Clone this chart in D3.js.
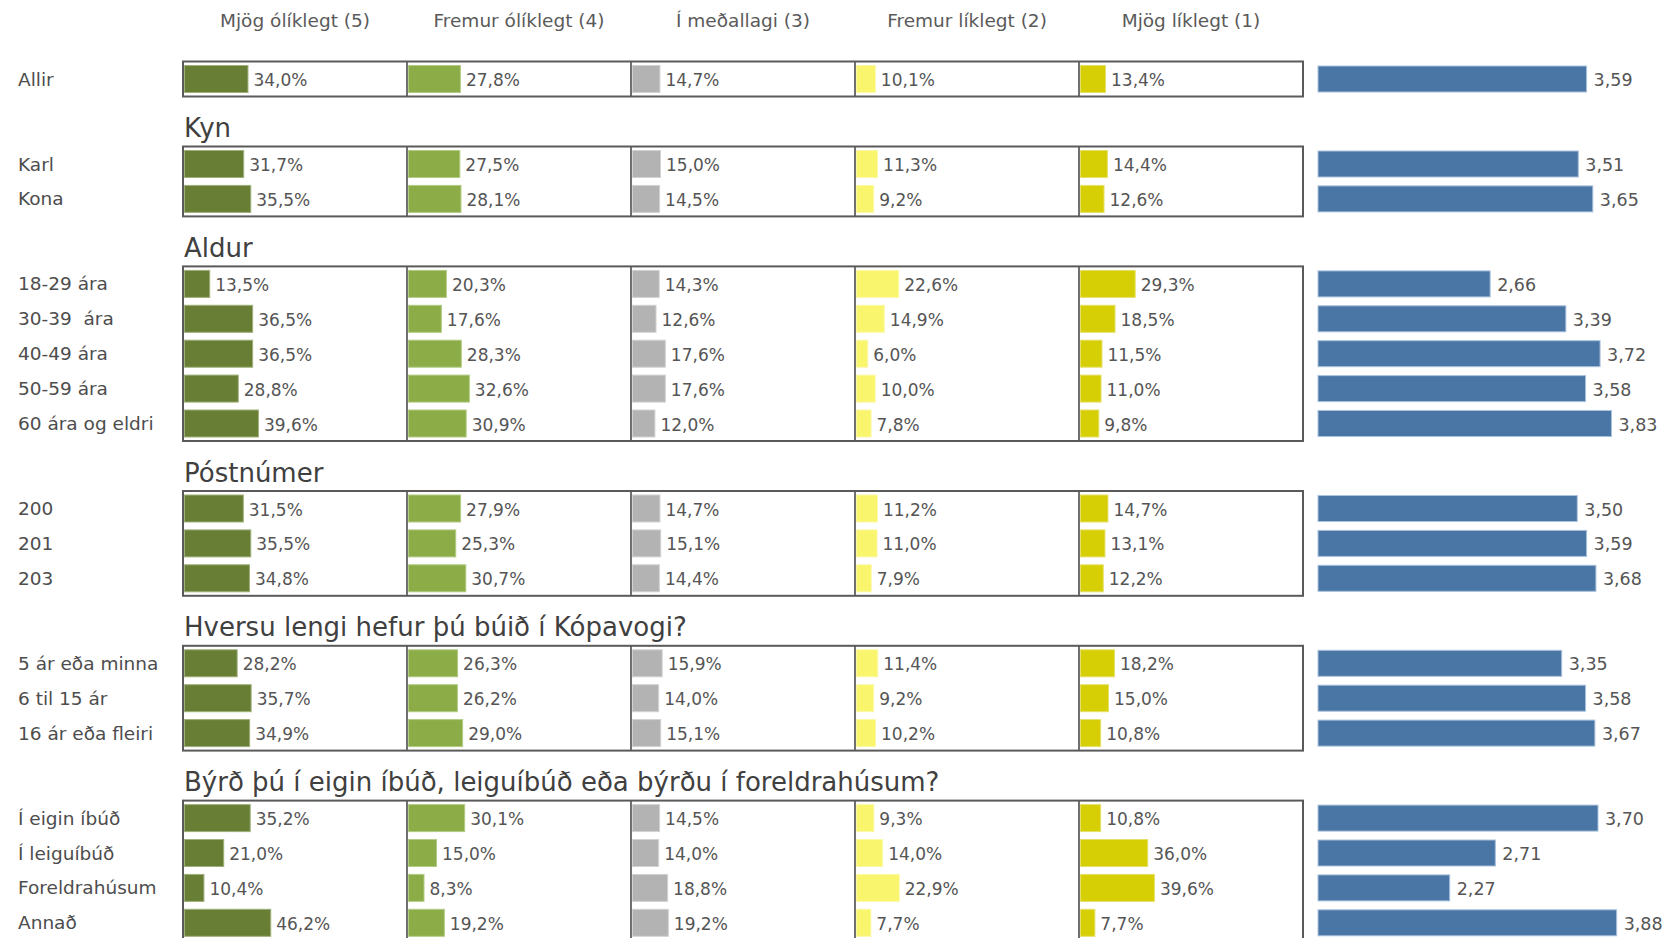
<!DOCTYPE html>
<html>
<head>
<meta charset="utf-8">
<script src="https://cdn.jsdelivr.net/npm/d3@7"></script>
<style>
  html, body { margin: 0; padding: 0; background: #ffffff; }
  svg { display: block; }
  text { font-family: "DejaVu Sans", sans-serif; }
</style>
</head>
<body>
<svg id="chart" width="1666" height="938"></svg>
<script>
// ---------- DATA ----------
const columnLabels = ["Mjög ólíklegt (5)", "Fremur ólíklegt (4)", "Í meðallagi (3)", "Fremur líklegt (2)", "Mjög líklegt (1)"];
const columnColors = ["#687e34", "#8bac46", "#b3b3b3", "#f9f56d", "#d6cf05"];
const columnStrokes = ["#9fb07a", "#b4cb85", "#d2d2d2", "#fbf8a8", "#e5e06a"];

const groupTitles = [null, "Kyn", "Aldur", "Póstnúmer", "Hversu lengi hefur þú búið í Kópavogi?", "Býrð þú í eigin íbúð, leiguíbúð eða býrðu í foreldrahúsum?"];
const groupRows = [
  ["Allir"],
  ["Karl", "Kona"],
  ["18-29 ára", "30-39  ára", "40-49 ára", "50-59 ára", "60 ára og eldri"],
  ["200", "201", "203"],
  ["5 ár eða minna", "6 til 15 ár", "16 ár eða fleiri"],
  ["Í eigin íbúð", "Í leiguíbúð", "Foreldrahúsum", "Annað"]
];

// percentages per row, columns 5..1
const mjogOliklegt   = [34.0, 31.7, 35.5, 13.5, 36.5, 36.5, 28.8, 39.6, 31.5, 35.5, 34.8, 28.2, 35.7, 34.9, 35.2, 21.0, 10.4, 46.2];
const fremurOliklegt = [27.8, 27.5, 28.1, 20.3, 17.6, 28.3, 32.6, 30.9, 27.9, 25.3, 30.7, 26.3, 26.2, 29.0, 30.1, 15.0, 8.3, 19.2];
const medallagi      = [14.7, 15.0, 14.5, 14.3, 12.6, 17.6, 17.6, 12.0, 14.7, 15.1, 14.4, 15.9, 14.0, 15.1, 14.5, 14.0, 18.8, 19.2];
const fremurLiklegt  = [10.1, 11.3, 9.2, 22.6, 14.9, 6.0, 10.0, 7.8, 11.2, 11.0, 7.9, 11.4, 9.2, 10.2, 9.3, 14.0, 22.9, 7.7];
const mjogLiklegt    = [13.4, 14.4, 12.6, 29.3, 18.5, 11.5, 11.0, 9.8, 14.7, 13.1, 12.2, 18.2, 15.0, 10.8, 10.8, 36.0, 39.6, 7.7];
const meanScores     = [3.59, 3.51, 3.65, 2.66, 3.39, 3.72, 3.58, 3.83, 3.50, 3.59, 3.68, 3.35, 3.58, 3.67, 3.70, 2.71, 2.27, 3.88];

const seriesValues = [mjogOliklegt, fremurOliklegt, medallagi, fremurLiklegt, mjogLiklegt];

// ---------- LAYOUT ----------
const svg = d3.select("#chart");
const locale = d3.formatLocale({decimal: ",", thousands: ".", grouping: [3], currency: ["", ""]});
const fmtPct = v => locale.format(".1f")(v) + "%";
const fmtMean = locale.format(".2f");

const panelLeft = 183, panelW = 224;
const colX = d3.scaleBand().domain(d3.range(5)).range([panelLeft, panelLeft + 5 * panelW]).padding(0);
const pctScale = d3.scaleLinear().domain([0, 120]).range([0, panelW]);
const meanScale = d3.scaleLinear().domain([1, 5]).range([1318, 1318 + 4 * 103.7]);

const rowStep = 34.9, groupJump = 85, headingToRow = 36;
const barH = 27;

// compute row positions
const rows = [];
const groups = [];
let idx = 0, y = 79;
groupRows.forEach((gr, gi) => {
  if (gi > 0) y = rows[rows.length - 1].y + groupJump;
  const g = {title: groupTitles[gi], first: y, rows: []};
  gr.forEach((lab, ri) => {
    const r = {label: lab, i: idx++, y: y + ri * rowStep};
    rows.push(r); g.rows.push(r);
  });
  g.last = g.rows[g.rows.length - 1].y;
  groups.push(g);
});

const textCol = "#555555";

// column headers
svg.append("g").selectAll("text").data(columnLabels).join("text")
  .attr("x", (d, i) => colX(i) + panelW / 2)
  .attr("y", 20)
  .attr("text-anchor", "middle")
  .attr("dominant-baseline", "central")
  .attr("font-size", 18.5)
  .attr("fill", "#5a5a5a")
  .text(d => d);

// group headings
svg.append("g").selectAll("text").data(groups.filter(g => g.title)).join("text")
  .attr("x", panelLeft + 1)
  .attr("y", g => g.first - headingToRow)
  .attr("dominant-baseline", "central")
  .attr("font-size", 26)
  .attr("fill", "#404040")
  .text(g => g.title);

// row labels
svg.append("g").selectAll("text").data(rows).join("text")
  .attr("x", 18)
  .attr("y", r => r.y)
  .attr("dominant-baseline", "central")
  .attr("font-size", 18.5)
  .attr("fill", "#4d4d4d")
  .attr("xml:space", "preserve")
  .style("white-space", "pre")
  .text(r => r.label);

// bars per column
seriesValues.forEach((vals, c) => {
  const gc = svg.append("g");
  gc.selectAll("rect").data(rows).join("rect")
    .attr("x", colX(c) + 1.5)
    .attr("y", r => r.y - barH / 2)
    .attr("width", r => pctScale(vals[r.i]))
    .attr("height", barH)
    .attr("fill", columnColors[c])
    .attr("stroke", columnStrokes[c])
    .attr("stroke-width", 1);
  gc.selectAll("text").data(rows).join("text")
    .attr("x", r => colX(c) + 1.5 + pctScale(vals[r.i]) + 5.5)
    .attr("y", r => r.y + 1)
    .attr("dominant-baseline", "central")
    .attr("font-size", 17)
    .attr("fill", textCol)
    .text(r => fmtPct(vals[r.i]));
});

// boxes
groups.forEach(g => {
  const top = g.first - 17.5, bot = g.last + 17.5;
  const gb = svg.append("g");
  gb.selectAll("line.div").data(d3.range(1, 5)).join("line")
    .attr("x1", i => colX(i)).attr("x2", i => colX(i))
    .attr("y1", top).attr("y2", bot)
    .attr("stroke", "#404040").attr("stroke-width", 1.5);
  gb.append("rect")
    .attr("x", panelLeft).attr("y", top)
    .attr("width", 5 * panelW).attr("height", bot - top)
    .attr("fill", "none").attr("stroke", "#5a5a5a").attr("stroke-width", 2);
});

// mean bars
const gm = svg.append("g");
gm.selectAll("rect").data(rows).join("rect")
  .attr("x", meanScale(1))
  .attr("y", r => r.y - 13)
  .attr("width", r => meanScale(meanScores[r.i]) - meanScale(1))
  .attr("height", 26)
  .attr("fill", "#4a76a5")
  .attr("stroke", "#a9c1dc")
  .attr("stroke-width", 1);
gm.selectAll("text").data(rows).join("text")
  .attr("x", r => meanScale(meanScores[r.i]) + 7)
  .attr("y", r => r.y + 1)
  .attr("dominant-baseline", "central")
  .attr("font-size", 17.5)
  .attr("fill", textCol)
  .text(r => fmtMean(meanScores[r.i]));
</script>
</body>
</html>
